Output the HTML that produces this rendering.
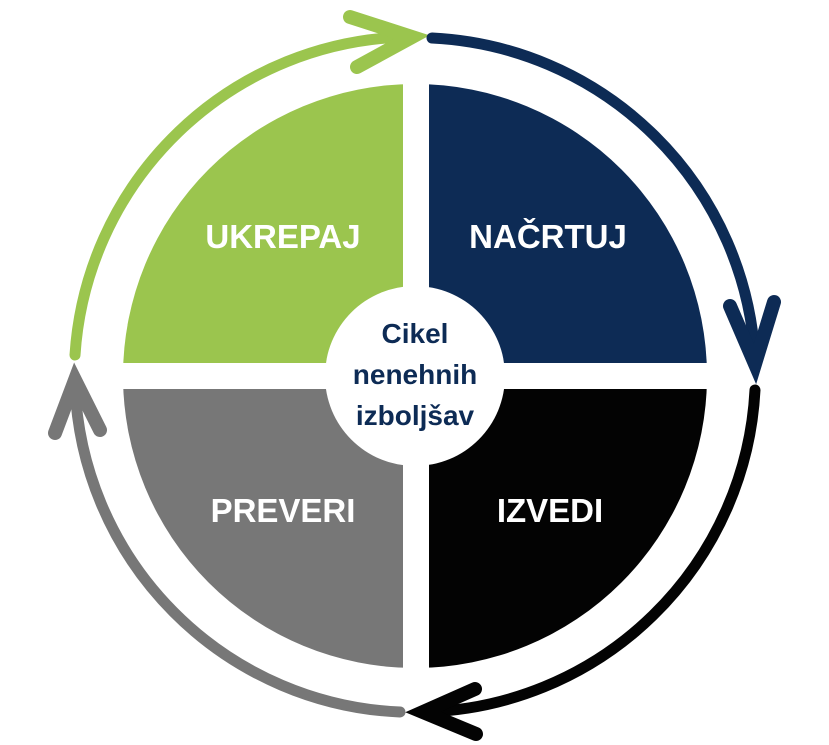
<!DOCTYPE html>
<html><head><meta charset="utf-8"><style>
html,body{margin:0;padding:0;background:#fff;}
svg{display:block;font-family:"Liberation Sans",sans-serif;}
</style></head><body>
<svg width="829" height="745" viewBox="0 0 829 745">
<defs><clipPath id="c"><circle cx="415" cy="376" r="292"/></clipPath></defs>
<g clip-path="url(#c)">
<rect x="100" y="60" width="315" height="316" fill="#9bc54e"/>
<rect x="415" y="60" width="320" height="316" fill="#0d2b55"/>
<rect x="100" y="376" width="315" height="320" fill="#777777"/>
<rect x="415" y="376" width="320" height="320" fill="#030303"/>
</g>
<rect x="403" y="60" width="26" height="640" fill="#fff"/>
<rect x="100" y="363" width="640" height="26" fill="#fff"/>
<circle cx="415" cy="376" r="90" fill="#fff"/>
<g fill="none" stroke-width="11" stroke-linecap="round" stroke-linejoin="miter">
<path d="M75,355 A340 340 0 0 1 405,37" stroke="#9bc54e"/>
<polyline points="350,17 412,37 357,67" stroke="#9bc54e" stroke-width="14"/>
<path d="M432,38 A340 340 0 0 1 755,358" stroke="#0d2b55"/>
<polyline points="730,306 755,364 774,302" stroke="#0d2b55" stroke-width="14"/>
<path d="M755,390 A340 340 0 0 1 425,712" stroke="#030303"/>
<polyline points="475,689 423,712 476,734" stroke="#030303" stroke-width="14"/>
<path d="M400,712 A340 340 0 0 1 75,385" stroke="#777777"/>
<polyline points="55,433 75,380 100,430" stroke="#777777" stroke-width="14"/>
</g>
<g fill="#fff" font-weight="bold" font-size="33" text-anchor="middle">
<text x="283" y="248">UKREPAJ</text>
<text x="548" y="248">NAČRTUJ</text>
<text x="283" y="522">PREVERI</text>
<text x="550" y="522">IZVEDI</text>
</g>
<g fill="#0d2b55" font-weight="bold" font-size="28" text-anchor="middle">
<text x="415" y="343">Cikel</text>
<text x="415" y="384">nenehnih</text>
<text x="415" y="425">izboljšav</text>
</g>
</svg>
</body></html>
